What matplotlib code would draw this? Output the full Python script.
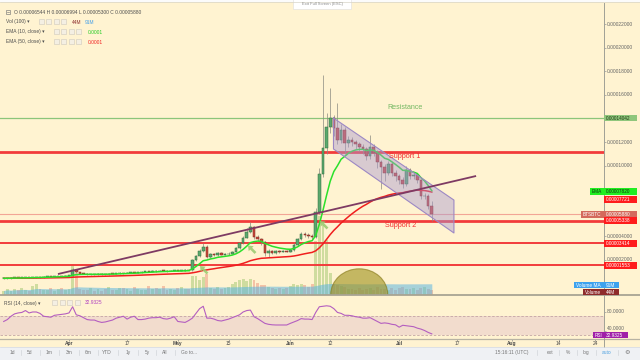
import numpy as np
import pandas as pd
import matplotlib
matplotlib.use("Agg")
import matplotlib.pyplot as plt
import matplotlib.dates as mdates
from matplotlib.patches import Rectangle, Ellipse, Polygon, FancyArrow

plt.rcParams['font.family'] = ['Liberation Sans', 'DejaVu Sans']

# ---------------- data (prices in satoshi = 1e-8 BTC) ----------------
first_date = "2018-03-14"
first_open = 440
closes = [450, 470, 480, 500, 490, 520, 530, 520, 550, 560, 550, 580, 600, 580, 620, 640, 630, 660,
          680, 1150, 950, 850, 820, 800,
          800, 780, 820, 800, 790, 830, 820,
          860, 900, 880, 920, 950, 930, 960,
          1000, 1050, 1020, 1080, 1050, 1100, 1080, 1060, 1100, 1120, 1080, 1100, 1150, 1120,
          2000, 2300, 2750, 3100, 2250,
          2500, 2400, 2600, 2450, 2500, 2550,
          2700, 3000, 3400, 3900, 4400, 4800, 3950, 3800, 3500,
          2600, 2750, 2600, 2750, 2700, 2750, 2720,
          2850, 3270, 3750, 4200, 4100, 4050, 3950,
          6070, 9300, 11500, 13270, 14030,
          13200, 12200, 13000, 11900,
          12200, 12000, 11800, 11600, 11400, 10800, 11600, 11100, 10300, 9900, 9400, 10100,
          9400, 9100, 8800, 8400, 9600, 9100, 9200, 8800, 7400, 7450, 6544, 5880]
highs = [500, 510, 520, 540, 540, 560, 570, 570, 590, 600, 600, 620, 640, 640, 660, 680, 680, 700,
         720, 1350, 1200, 980, 900, 870,
         850, 840, 870, 860, 840, 870, 870,
         900, 950, 940, 970, 1000, 990, 1010,
         1050, 1100, 1090, 1130, 1120, 1150, 1140, 1120, 1150, 1170, 1150, 1150, 1200, 1190,
         2100, 2450, 2900, 3450, 3300,
         2600, 2600, 2700, 2650, 2600, 2650,
         2800, 3100, 3500, 4000, 4700, 5250, 4900, 4100, 3900,
         3600, 2900, 2850, 2850, 2850, 2850, 2850,
         2950, 3400, 3900, 4400, 4350, 4250, 4200,
         6400, 9800, 17700, 14500, 16600,
         14300, 15300, 13500, 13300,
         12500, 12400, 12200, 12000, 11800, 11600, 12600, 11800, 11300, 10500, 10100, 10400,
         10300, 9600, 9300, 9000, 10000, 9800, 9400, 9400, 8900, 7700, 7600, 6994]
lows = [400, 410, 430, 440, 450, 450, 480, 480, 480, 510, 510, 510, 540, 540, 540, 580, 590, 590,
        630, 660, 900, 800, 780, 760,
        760, 740, 750, 770, 750, 760, 790,
        800, 840, 850, 860, 900, 900, 910,
        940, 980, 990, 1000, 1020, 1030, 1040, 1020, 1040, 1070, 1040, 1050, 1070, 1080,
        1100, 1950, 2250, 2700, 2150,
        2200, 2300, 2350, 2400, 2400, 2450,
        2500, 2650, 2950, 3350, 3850, 4300, 3800, 3600, 3300,
        2300, 2250, 2500, 2500, 2600, 2650, 2650,
        2650, 2800, 3200, 3700, 3950, 3900, 3800,
        3900, 5900, 9000, 11000, 12800,
        12500, 11800, 11900, 11000,
        11600, 11700, 11400, 11200, 11000, 10500, 10600, 10800, 9800, 8000, 8700, 9200,
        9100, 8700, 8400, 8100, 8300, 8900, 8900, 8500, 7200, 7200, 6300, 5300]
volumes_m = [40, 55, 35, 60, 45, 70, 50, 40, 90, 110, 60, 50, 45, 70, 40, 55, 65, 50,
             60, 310, 220,
             60, 45, 50, 70, 40, 55, 35, 60, 80, 50, 45, 65, 70, 55, 40, 75, 60, 45, 50, 85,
             60, 70, 55, 90, 45, 60, 50, 70, 80, 60, 55,
             190, 185, 150, 180, 210,
             70, 60, 75, 55, 65, 80,
             110, 130, 150, 160, 140, 155, 150, 120, 100,
             100, 80, 70, 60, 65, 55, 70,
             90, 110, 100, 105, 95, 80, 110,
             540, 790, 700, 550, 220,
             110, 100, 90, 80,
             60, 55, 50, 70, 45, 60, 65, 50, 75, 55, 60, 50, 65, 45, 70, 80, 55, 60, 65, 50,
             70, 75, 60, 44]
rsi_values = [59, 63, 70, 75, 77, 78, 82, 77, 79, 79, 76, 70, 69, 68, 72, 73, 74, 75,
              77, 90, 73, 71, 67, 63, 62, 62, 59, 57, 58, 60, 62, 66, 68, 70, 64, 68, 70, 63,
              63, 64, 66, 67, 67, 68, 65, 64, 66, 69, 59, 58, 57, 61, 66, 76, 86, 91, 66, 66,
              64, 61, 60, 62, 64, 67, 70, 73, 79, 82, 83, 69, 65, 60, 55, 53, 52, 51.6, 51.6, 51.6,
              51.6, 55, 58, 61, 65, 64, 64, 63, 78, 90, 91, 92, 91, 86, 78, 76, 72, 72, 71, 69,
              68, 66, 66, 67, 63, 59, 55, 56, 55, 53, 52, 47, 51, 50, 49, 48, 45, 43, 40, 36, 32.93]

resistance = 14042
support_1 = 11150
support_2 = 5338
support_3 = 3414
support_4 = 1553
ema10_shown = 7820
ema50_shown = 7721
vol_ma_shown = 91
vol_shown = 44
rsi_shown = 32.9325

channel_start, channel_end = "2018-06-12 21:36", "2018-07-16 02:24"
channel_top = (14030, 7080)
channel_bottom = (11410, 4290)
trend_start, trend_end = "2018-03-28 23:00", "2018-07-22 05:00"
trend_prices = (810, 9120)
circle_date = "2018-06-20"

xtick_dates = ["2018-04-01", "2018-04-17", "2018-05-01", "2018-05-15", "2018-06-01", "2018-06-12",
               "2018-07-01", "2018-07-17", "2018-08-01", "2018-08-14", "2018-08-24"]
xtick_labels = ["Apr", "17", "May", "15", "Jun", "12", "Jul", "17", "Aug", "14", "24"]
price_ticks = list(range(0, 22001, 2000))
rsi_ticks = [40, 80]

# ---------------- figure ----------------
W, H = 640, 360
CREAM = '#FFF3D1'
fig = plt.figure(figsize=(6.4, 3.6), dpi=100, facecolor=CREAM)

def frac_rect(x0, y0, x1, y1):
    return [x0 / W, 1 - y1 / H, (x1 - x0) / W, (y1 - y0) / H]

main_top, main_bot = 3, 294.5
rsi_top, rsi_bot = 294.5, 338.5
ax = fig.add_axes(frac_rect(0, main_top, 604, main_bot))
vol = ax.twinx()
rsi = fig.add_axes(frac_rect(0, rsi_top, 604, rsi_bot), sharex=ax)

ref = mdates.date2num(pd.Timestamp("2018-04-01"))
pxday = 3.628
ax.set_xlim(ref - 69 / pxday, ref + (604 - 69) / pxday)
ppx = 1000 / 11.8  # satoshi per pixel
ax.set_ylim(22000 - (main_bot - 24) * ppx, 22000 + (24 - main_top) * ppx)
vol.set_ylim(0, (main_bot - main_top) * 10)
rsi.set_ylim(80 - (rsi_bot - 311.5) / 0.475, 80 + (311.5 - rsi_top) / 0.475)

ax.set_zorder(2); vol.set_zorder(1)
ax.patch.set_visible(False)
vol.patch.set_facecolor(CREAM)
rsi.set_facecolor(CREAM)
for a in (ax, vol, rsi):
    for s in a.spines.values():
        s.set_visible(False)

dates = pd.date_range(first_date, periods=len(closes), freq="D")
x = mdates.date2num(dates.to_pydatetime())
opens = np.array([first_open] + closes[:-1], dtype=float)
c = np.array(closes, dtype=float)
h = np.array(highs, dtype=float)
l = np.array(lows, dtype=float)
up = c >= opens

# volume
vcol = np.where(up, '#8DBE5A', '#E8806A')
vol.bar(x, volumes_m, width=0.8, color=vcol, alpha=0.42, linewidth=0)
vma = pd.Series(volumes_m, dtype=float).rolling(100, min_periods=1).mean()
vol.fill_between(x, 0, vma, color='#5DB5E0', alpha=0.55, linewidth=0)
vol.set_yticks([])

# horizontal levels
ax.axhline(resistance, color='#8CC57A', lw=0.9, zorder=2)
for lev, lw in [(support_1, 2.0), (support_2, 2.0), (support_3, 1.4), (support_4, 1.4)]:
    ax.axhline(lev, color='#F23B3B', lw=lw, zorder=2)
ax.axhline(closes[-1], color='#F2A596', lw=0.8, zorder=2)

# candles
body_lo = np.minimum(opens, c)
body_h = np.maximum(np.abs(c - opens), 40)
ax.vlines(x, l, h, color='#8A8A80', lw=0.5, zorder=3)
ax.bar(x, body_h, bottom=body_lo, width=0.72,
       color=np.where(up, '#5BA86D', '#C9493B'),
       edgecolor=np.where(up, '#2F6B3D', '#7D2A20'), linewidth=0.35, zorder=4)

# EMAs
s = pd.Series(closes, dtype=float)
ema10 = s.ewm(span=10, adjust=False).mean()
ema50 = s.ewm(span=50, adjust=False).mean()
ax.plot(x, ema50, color='#F01E1E', lw=1.1, zorder=5)
ax.plot(x, ema10, color='#2BE02B', lw=1.1, zorder=5)

# channel
cs = mdates.date2num(pd.Timestamp(channel_start)); ce = mdates.date2num(pd.Timestamp(channel_end))
chan = Polygon([(cs, channel_top[0]), (ce, channel_top[1]), (ce, channel_bottom[1]), (cs, channel_bottom[0])],
               closed=True, facecolor='#A998D0', alpha=0.45, edgecolor='none', zorder=6)
ax.add_patch(chan)
ax.plot([cs, ce, ce, cs, cs], [channel_top[0], channel_top[1], channel_bottom[1], channel_bottom[0], channel_top[0]],
        color='#9C88C4', lw=0.8, zorder=6)

# trend line
ts = mdates.date2num(pd.Timestamp(trend_start)); te = mdates.date2num(pd.Timestamp(trend_end))
ax.plot([ts, te], list(trend_prices), color='#7E3A63', lw=1.3, zorder=7, solid_capstyle='butt')

# semicircle
cd = mdates.date2num(pd.Timestamp(circle_date))
ell = Ellipse((cd, ax.get_ylim()[0]), width=57 / pxday, height=51.4 * ppx,
              facecolor='#A0921E', alpha=0.62, edgecolor='#857716', lw=0.8, zorder=8)
ax.add_patch(ell)

# level texts
ax.annotate("Resistance", xy=(ref + 92.75, resistance), xytext=(0, 7.2), textcoords='offset points',
            ha='center', va='center', fontsize=5.1, color='#74B862', zorder=9)
ax.annotate("Support 1", xy=(ref + 92.4, support_1), xytext=(0, -0.4), textcoords='offset points',
            ha='center', va='top', fontsize=5.2, color='#F23030', zorder=9)
ax.annotate("Support 2", xy=(ref + 91.4, support_2), xytext=(0, -1.1), textcoords='offset points',
            ha='center', va='top', fontsize=5.2, color='#F23030', zorder=9)

# price axis tick marks (labels drawn in overlay)
ax.yaxis.tick_right()
ax.set_yticks(price_ticks)
ax.tick_params(axis='y', length=1.5, width=0.5, color='#999999', labelright=False)
ax.tick_params(axis='x', length=0, labelbottom=False)
vol.tick_params(axis='x', length=0, labelbottom=False)

# RSI pane
rsi.axhspan(30, 70, color='#C080C0', alpha=0.2, lw=0)
for lv in (30, 70):
    rsi.axhline(lv, color='#C4A5A5', lw=0.6, ls=(0, (3, 2)))
rsi.plot(x, rsi_values, color='#B45EC0', lw=0.8)
rsi.yaxis.tick_right()
rsi.set_yticks(rsi_ticks)
rsi.tick_params(axis='y', length=1.5, width=0.5, color='#999999', labelright=False)
xt = [mdates.date2num(pd.Timestamp(d)) for d in xtick_dates]
rsi.set_xticks(xt)
rsi.set_xticklabels(xtick_labels)
rsi.tick_params(axis='x', length=1.2, width=0.5, color='#888888', pad=0.4, labelsize=3.5, labelcolor='#4A4A4A')
for t in rsi.get_xticklabels():
    if t.get_text().isalpha():
        t.set_fontweight('bold')

# ---------------- overlay (pixel coordinates) ----------------
ov = fig.add_axes([0, 0, 1, 1])
ov.set_xlim(0, W); ov.set_ylim(H, 0)
ov.axis('off'); ov.set_zorder(10); ov.patch.set_visible(False)

def ypix(a, v):
    return H - a.transData.transform((a.get_xlim()[0], v))[1]

# separators & axis line
ov.plot([0, W], [294.8, 294.8], color='#A8A493', lw=1.3)
ov.plot([0, W], [338.8, 338.8], color='#B8B3A3', lw=0.9)
ov.plot([604, 604], [3, 347], color='#A0A096', lw=0.7)
ov.add_patch(Rectangle((0, 0), W, 2.4, facecolor='#FBFBFB', edgecolor='none'))
ov.plot([0, W], [2.4, 2.4], color='#D8D4C8', lw=0.5)

TAG_H = 6.8
tag_ys = []

def tag(y, text, fc, tc, left=None, lw_=33, x0=604.4):
    tag_ys.append(y)
    ov.add_patch(Rectangle((x0, y - TAG_H / 2), lw_, TAG_H, facecolor=fc, edgecolor='none', zorder=3))
    ov.text(x0 + 1.2, y + 0.2, text, fontsize=3.4, color=tc, ha='left', va='center', zorder=4)
    if left is not None:
        ltxt, lwid = left
        ov.add_patch(Rectangle((x0 - 0.6 - lwid, y - TAG_H / 2), lwid, TAG_H, facecolor=fc, edgecolor='none', zorder=3))
        ov.text(x0 - 0.6 - lwid / 2, y + 0.2, ltxt, fontsize=3.4, color=tc, ha='center', va='center', zorder=4)

def pfmt(v):
    return f"{v * 1e-8:.8f}"

tag(ypix(ax, resistance), pfmt(resistance), '#8FC67C', '#1E3A12')
tag(ypix(ax, ema10_shown), pfmt(ema10_shown), '#22EE22', '#113311', left=("EMA", 14))
tag(ypix(ax, ema50_shown) + 6.8, pfmt(ema50_shown), '#FF1C1C', 'white')
tag(ypix(ax, closes[-1]), pfmt(closes[-1]), '#D46A5C', 'white', left=("BTSBTC", 23))
for lev in (support_2, support_3, support_4):
    tag(ypix(ax, lev), pfmt(lev), '#FF1C1C', 'white')
tag(ypix(vol, vol_shown) + 1.8, f"{vol_shown}M", '#8E2B2B', 'white', left=("Volume", 21), lw_=15)
tag(ypix(vol, vol_ma_shown) - 0.4, f"{vol_ma_shown}M", '#3DA2EE', 'white', left=("Volume MA", 30), lw_=15)
rsi_tag_y = ypix(rsi, rsi_shown) + 1.2
tag(rsi_tag_y, f"{rsi_shown:.4f}", '#A020A8', 'white', left=("RSI", 11), lw_=24)

# price / rsi tick labels: hidden under a tag, or nudged clear of it
def axis_labels(a, ticks, fmt, tags):
    for v in ticks:
        y = ypix(a, v)
        near = [t for t in tags if abs(t - y) < 6.3]
        if any(abs(t - y) < 4.0 for t in near):
            continue
        for t in near:
            y = t - 6.3 if y < t else t + 6.3
        ov.text(607, y + 0.2, fmt(v), fontsize=3.5, color='#666666', ha='left', va='center', zorder=2)

axis_labels(ax, price_ticks, pfmt, tag_ys[:-1])
axis_labels(rsi, rsi_ticks, lambda v: f"{v:.4f}", [rsi_tag_y])

# legend rows
TXT = '#4F4F4F'
def icons(x0, y):
    for i in range(4):
        ov.add_patch(Rectangle((x0 + i * 7.5, y - 2.6), 5.4, 5.2, facecolor='#F4EFE3', edgecolor='#CFCABD', lw=0.4))

ov.add_patch(Rectangle((5.8, 9.8), 4, 4, facecolor='none', edgecolor='#777777', lw=0.45))
ov.plot([6.8, 8.8], [11.8, 11.8], color='#777777', lw=0.45)
ov.text(13.5, 12, f"O {pfmt(opens[-1])} H {pfmt(highs[-1])} L {pfmt(lows[-1])} C {pfmt(closes[-1])}",
        fontsize=3.5, color=TXT, va='center')
ov.text(5.5, 22, "Vol (100) ▾", fontsize=3.5, color=TXT, va='center')
icons(38.5, 21.7)
ov.text(72, 22, f"{vol_shown}M", fontsize=3.5, color='#8E2C2C', va='center')
ov.text(84.5, 22, f"{vol_ma_shown}M", fontsize=3.5, color='#47A0E8', va='center')
ov.text(5.5, 32, "EMA (10, close) ▾", fontsize=3.5, color=TXT, va='center')
icons(53.5, 31.7)
ov.text(87.5, 32, "0.0001", fontsize=3.5, color='#22CC22', va='center')
ov.text(5.5, 42, "EMA (50, close) ▾", fontsize=3.5, color=TXT, va='center')
icons(53.5, 41.7)
ov.text(87.5, 42, "0.0001", fontsize=3.5, color='#F22020', va='center')
ov.text(4, 303, "RSI (14, close) ▾", fontsize=3.5, color=TXT, va='center')
icons(52, 302.7)
ov.text(85, 303, f"{rsi_shown:.4f}", fontsize=3.5, color='#B040C0', va='center')

# exit full screen tooltip
ov.add_patch(Rectangle((293, -1), 58, 9.5, facecolor='#FFFFFF', edgecolor='#DDDDDD', lw=0.4))
ov.text(322, 4.2, "Exit Full Screen (ESC)", fontsize=3.0, color='#8A8A8A', ha='center', va='center')

# green arrows
for (tx, ty) in [(207.5, 273.5), (255.5, 253), (327.5, 228.5)]:
    ov.add_patch(FancyArrow(tx, ty, -7.5, -7.5, width=2.6, head_width=7, head_length=4.5,
                            length_includes_head=True, facecolor='#9CCB72', edgecolor='none', alpha=0.9))

# bottom toolbar
ov.add_patch(Rectangle((0, 347), W, 13, facecolor='#EFF1F4', edgecolor='none'))
ov.plot([0, W], [347, 347], color='#D6D9DE', lw=0.5)
left_items = [("1d", 12), ("5d", 30), ("1m", 49), ("3m", 69), ("6m", 88), ("YTD", 107),
              ("1y", 128), ("5y", 147), ("All", 165), ("Go to...", 189)]
for t, xx in left_items:
    ov.text(xx, 352.8, t, fontsize=3.5, color='#777777', ha='center', va='center')
for sx in (21, 39.5, 59, 78.5, 97.5, 117.5, 137.5, 156, 175):
    ov.plot([sx, sx], [350.3, 355.3], color='#D2D5DA', lw=0.5)
right_items = [("15:16:11 (UTC)", 512, '#777777'), ("ext", 550, '#777777'), ("%", 568, '#777777'),
               ("log", 586, '#777777'), ("auto", 607, '#4A9FE0')]
for t, xx, col in right_items:
    ov.text(xx, 352.8, t, fontsize=3.5, color=col, ha='center', va='center')
ov.text(627, 352.6, "⚙", fontsize=4.5, color='#777777', ha='center', va='center', family='DejaVu Sans')
for sx in (537, 559, 577, 596, 618):
    ov.plot([sx, sx], [350.3, 355.3], color='#D2D5DA', lw=0.5)

fig.savefig("out.png", dpi=100, facecolor=CREAM)
